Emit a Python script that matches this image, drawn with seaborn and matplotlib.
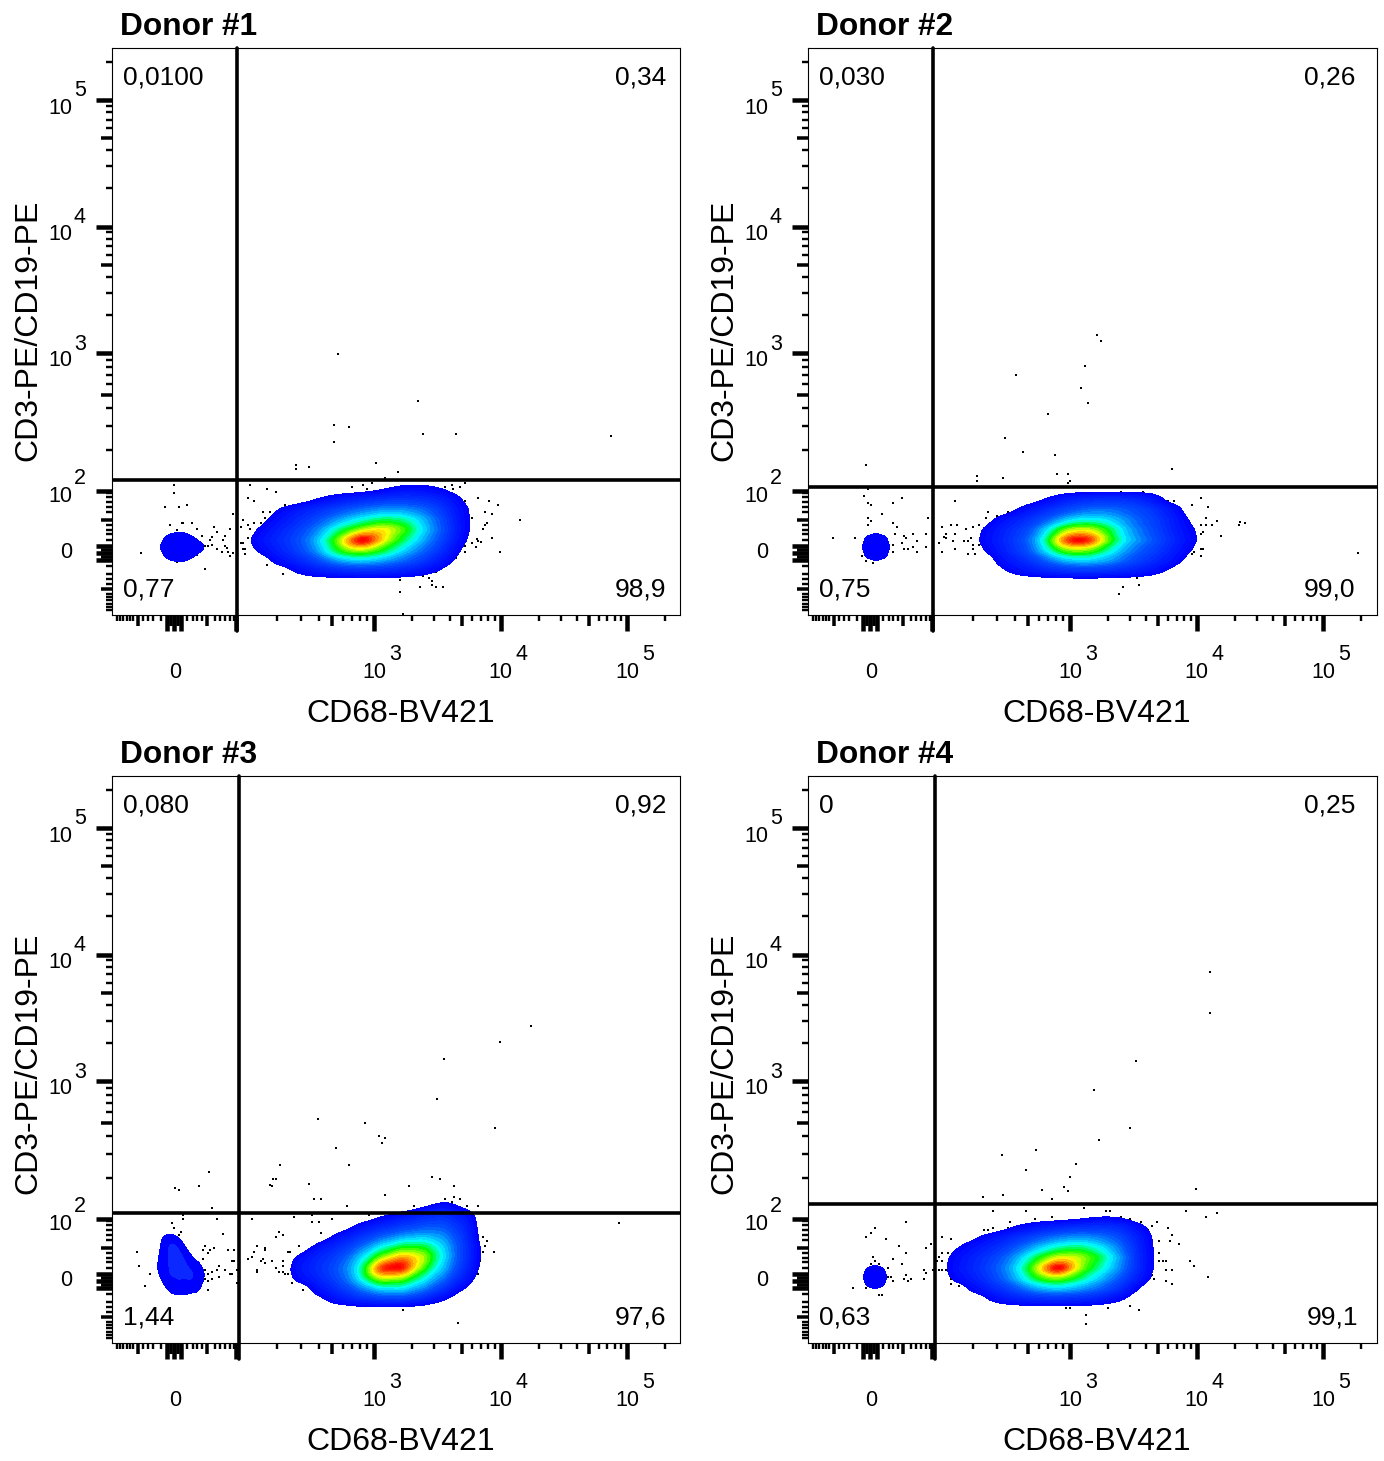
import numpy as np
import pandas as pd
import seaborn as sns
import matplotlib.pyplot as plt
from matplotlib.colors import LinearSegmentedColormap, ListedColormap

# all values are display channels of the biexponential axes (0-568)
TITLES = ["Donor #1", "Donor #2", "Donor #3", "Donor #4"]
Q_TL = ["0,0100", "0,030", "0,080", "0"]
Q_TR = ["0,34", "0,26", "0,92", "0,25"]
Q_BL = ["0,77", "0,75", "1,44", "0,63"]
Q_BR = ["98,9", "99,0", "97,6", "99,1"]
GATE_X = [124.5, 124.5, 127, 126.5]
GATE_Y = [135, 128, 130.5, 139.5]

DECADES = [262, 388.5, 515]
DECADE_LABELS = ["3", "4", "5"]
ZERO_CH = 63
HUNDRED_CH = 124

LOW_SHORT = [5, 8, 11, 15, 18, 21, 31, 36, 41, 49, 75, 81, 85, 90, 103, 108, 113, 118, 122,
             165, 189, 207, 231, 240, 248, 255]
LOW_MED = [26, 58.5, 65.5, 95, 220]
LOW_LONG = [55, 62, 69, 124]

# density tables of the main population, weights on a coarse channel grid
MAIN1_X = [150, 170, 190, 210, 230, 250, 270, 290, 310, 330, 350]
MAIN1_Y = [125, 115, 105, 95, 85, 75, 65, 55, 45]
MAIN1_W = [
    [0, 0, 0, 0, 0, 0, .2, .6, .6, .3, 0],
    [0, 0, 0, .4, .8, 1.1, 1.3, 1.4, 1.3, 1, .2],
    [0, .4, .9, 1.3, 1.8, 2.2, 2.6, 2.6, 2.2, 1.4, .4],
    [.1, .7, 1.2, 1.9, 2.8, 3.6, 4.5, 4.2, 3, 1.7, .4],
    [.4, 1, 1.6, 2.6, 4.5, 6, 8, 6, 3.2, 1.9, .4],
    [.7, 1.2, 1.9, 3.2, 6.5, 14, 7, 4.5, 2.8, 1.6, .3],
    [.4, 1, 1.7, 2.8, 5.5, 6.5, 5, 3.2, 2.2, 1.2, .1],
    [0, .6, 1.1, 1.8, 2.8, 3.2, 2.8, 2.2, 1.5, .7, 0],
    [0, 0, .5, .9, 1.1, 1.2, 1.2, 1, .7, .2, 0],
]
MAIN2_X = [180, 200, 220, 240, 260, 280, 300, 320, 340, 360, 380]
MAIN2_Y = [115, 105, 95, 85, 75, 65, 55, 45]
MAIN2_W = [
    [0, 0, 0, .3, .9, 1.1, 1.2, 1.2, .9, 0, 0],
    [0, 0, .6, 1.1, 1.6, 2, 2.1, 1.8, 1.4, .8, 0],
    [.1, .7, 1.1, 1.8, 2.8, 3.4, 3, 2.2, 1.6, 1, .2],
    [.4, 1, 1.5, 3, 6, 6.5, 4.5, 2.4, 1.8, 1, .4],
    [.5, 1.1, 1.8, 3.6, 11, 11, 5, 2.8, 2, 1.2, .5],
    [.3, 1, 1.6, 3.2, 5.6, 5.5, 3.6, 2.2, 1.6, 1, .3],
    [0, .7, 1.1, 1.9, 2.8, 3, 2.6, 1.8, 1.2, .7, .1],
    [0, .3, .7, 1, 1.2, 1.3, 1.2, 1, .7, .2, 0],
]
MAIN3_X = [190, 210, 230, 250, 270, 290, 310, 330, 350, 370]
MAIN3_Y = [135, 125, 115, 105, 95, 85, 75, 65, 55, 45]
MAIN3_W = [
    [0, 0, 0, 0, 0, 0, .2, .7, .2, 0],
    [0, 0, 0, 0, .3, .7, 1, 1.2, .8, 0],
    [0, 0, 0, .6, 1, 1.3, 1.6, 1.7, 1, 0],
    [0, 0, .7, 1.2, 1.8, 2.4, 2.7, 2.3, 1.2, 0],
    [0, .7, 1.1, 1.9, 3.2, 4.2, 4.2, 2.8, 1.3, .1],
    [.5, 1, 1.5, 2.8, 5, 7.5, 6, 2.9, 1.3, .1],
    [.7, 1.1, 1.8, 3.2, 10, 10, 4.5, 2.6, 1.1, .1],
    [.5, 1, 1.6, 3, 5.5, 5, 3.2, 2, .8, 0],
    [0, .6, 1.2, 1.9, 2.8, 3, 2.2, 1.2, .3, 0],
    [0, .2, .7, 1.1, 1.3, 1.4, 1, .4, 0, 0],
]
MAIN4_X = [150, 170, 190, 210, 230, 250, 270, 290, 310, 330]
MAIN4_Y = [125, 115, 105, 95, 85, 75, 65, 55, 45]
MAIN4_W = [
    [0, 0, 0, 0, 0, 0, .1, .3, .3, 0],
    [0, 0, 0, .4, .8, 1.1, 1.3, 1.4, 1.3, .5],
    [0, .3, .8, 1.3, 1.9, 2.4, 2.7, 2.4, 1.9, .9],
    [.3, .8, 1.2, 2, 3, 4, 4.6, 3.6, 2.4, 1],
    [.6, 1.1, 1.7, 2.8, 4.8, 7, 7, 5, 2.8, 1.1],
    [.7, 1.2, 2, 3.2, 6.5, 14, 6, 4.2, 2.6, 1.1],
    [.5, 1, 1.8, 2.9, 5, 6, 4.6, 3.1, 2, .8],
    [0, .6, 1.2, 1.9, 2.8, 3.3, 2.8, 2.2, 1.4, .2],
    [0, 0, .6, 1, 1.2, 1.2, 1.2, 1, .5, 0],
]

# small population left of the gate
SMALL1 = [(56, 68), (60, 61), (60, 75), (68, 59), (68, 77), (76, 62), (76, 74), (84, 68), (66, 68), (74, 68)]
SMALL2 = [(60, 68), (68, 60), (68, 76), (76, 68), (68, 68), (62, 62), (74, 62), (62, 74), (74, 74)]
SMALL3 = [(58, 96), (64, 96), (56, 84), (64, 84), (72, 84), (54, 72), (64, 72), (74, 72), (84, 72),
          (60, 60), (70, 60), (80, 62)]
SMALL4 = [(60, 66), (67, 59), (67, 73), (74, 66), (67, 66), (62, 61), (72, 61), (62, 71), (72, 71)]

# single events
DOTS1 = [(226, 261), (306, 214), (222, 190), (237, 188), (222, 173), (311, 181), (344, 181), (499, 179),
         (184, 150), (184, 146), (197, 148), (264, 152), (286, 143), (273, 137),
         (62, 130), (62, 122), (53, 108), (67, 108), (75, 110), (58, 90), (70, 92), (71, 92), (80, 92), (65, 85),
         (85, 86), (102, 88), (105, 83), (118, 86), (100, 78), (113, 79), (90, 79), (98, 75), (111, 75), (93, 69),
         (96, 69), (100, 70), (105, 66), (113, 69), (115, 67), (116, 63), (118, 59), (110, 63), (121, 101),
         (121, 62), (29, 62), (51, 70), (51, 66), (65, 53), (93, 46), (85, 60),
         (138, 130), (155, 126), (164, 123), (136, 117), (142, 114), (173, 110), (191, 112), (209, 117),
         (240, 128), (251, 130), (260, 132), (255, 126), (333, 128), (340, 130), (335, 123), (341, 126),
         (348, 128), (353, 132), (151, 103), (158, 103), (131, 95), (129, 88), (136, 90), (142, 92), (149, 92),
         (153, 97), (138, 86), (129, 72), (131, 72), (136, 77), (131, 66), (133, 66), (133, 61), (155, 50),
         (171, 41), (353, 114), (366, 117), (377, 114), (386, 110), (355, 106), (373, 103), (380, 101), (360, 97),
         (375, 92), (373, 90), (371, 86), (408, 95), (380, 77), (365, 76), (366, 74), (369, 73), (360, 72),
         (353, 69), (364, 68), (353, 63), (388, 63), (344, 57), (331, 48), (324, 43), (311, 39), (317, 37),
         (320, 34), (320, 30), (324, 28), (331, 28), (308, 28), (288, 35), (288, 23), (291, 1)]
DOTS2 = [(289, 280), (293, 274), (277, 249), (208, 240), (273, 227), (280, 212), (240, 201), (197, 177),
         (215, 163), (58, 150), (247, 160), (364, 146), (169, 139), (169, 134), (195, 137), (249, 141), (260, 141),
         (262, 134), (260, 132),
         (60, 126), (56, 119), (60, 112), (63, 110), (85, 112), (94, 117), (74, 101), (60, 97), (63, 94), (60, 90),
         (85, 92), (89, 88), (120, 97), (25, 77), (47, 77), (87, 81), (96, 79), (98, 77), (105, 81), (118, 81),
         (109, 74), (94, 72), (85, 70), (105, 68), (100, 66), (96, 66), (85, 63), (109, 63), (118, 68), (54, 59),
         (58, 54), (65, 52),
         (147, 114), (134, 88), (143, 90), (149, 90), (138, 81), (136, 78), (138, 77), (147, 81), (158, 86),
         (165, 88), (171, 90), (145, 74), (131, 72), (156, 74), (160, 74), (163, 77), (165, 70), (147, 66),
         (134, 63), (165, 66), (160, 61), (167, 61), (171, 70), (178, 97), (180, 103), (189, 99), (191, 97),
         (200, 103), (240, 114), (244, 117), (313, 123), (335, 123), (360, 114), (366, 114), (384, 110), (393, 117),
         (400, 108), (398, 97), (409, 94), (404, 90), (398, 90), (393, 90), (395, 83), (393, 81), (413, 79),
         (431, 90), (393, 66), (395, 66), (386, 63), (384, 61), (393, 59), (353, 43), (329, 37), (315, 28),
         (331, 30), (311, 21), (550, 62), (432, 93), (437, 92)]
DOTS3 = [(419, 317), (388, 301), (332, 284), (325, 244), (383, 215), (206, 224), (253, 220), (267, 207), (273, 205),
         (270, 200), (224, 195), (237, 178), (168, 178), (161, 164), (158, 158), (97, 171), (63, 155), (67, 153),
         (87, 157), (320, 166), (328, 164), (297, 157), (342, 157), (333, 144), (342, 146), (340, 141), (348, 144),
         (355, 137), (366, 137), (302, 137), (273, 148), (235, 137), (202, 144), (209, 144), (197, 159), (160, 157),
         (164, 164), (100, 135),
         (71, 128), (71, 124), (105, 124), (60, 120), (62, 115), (69, 111), (67, 108), (60, 108), (111, 109),
         (25, 91), (27, 77), (38, 69), (33, 57), (93, 97), (91, 93), (98, 93), (96, 90), (102, 95), (91, 84),
         (116, 93), (122, 93), (120, 82), (122, 82), (107, 77), (105, 73), (113, 73), (125, 73), (100, 71), (93, 73),
         (118, 69), (120, 69), (96, 69), (107, 66), (100, 64), (96, 62), (93, 64), (125, 60), (96, 53),
         (140, 124), (182, 126), (200, 128), (200, 121), (207, 121), (220, 124), (257, 128), (209, 110), (167, 111),
         (171, 108), (164, 106), (187, 97), (145, 97), (153, 95), (153, 93), (142, 91), (140, 86), (136, 84),
         (151, 84), (149, 82), (153, 80), (160, 82), (171, 82), (171, 77), (176, 91), (178, 91), (164, 75), (145, 73),
         (145, 71), (167, 71), (171, 71), (173, 69), (176, 69), (180, 60), (191, 53), (362, 121), (371, 106),
         (375, 102), (373, 97), (382, 91), (371, 91), (368, 82), (366, 69), (353, 60), (342, 53), (322, 40),
         (291, 33), (346, 20), (507, 120)]
DOTS4 = [(402, 371), (402, 330), (328, 282), (286, 253), (322, 215), (291, 203), (228, 193), (194, 188), (268, 179),
         (218, 173), (262, 166), (256, 156), (388, 154), (234, 153), (175, 146), (195, 148), (260, 152), (244, 144),
         (276, 135), (298, 132), (302, 132), (218, 132), (185, 132), (378, 132), (398, 126), (409, 130), (244, 126),
         (227, 124), (202, 121), (313, 126), (322, 124), (333, 121), (349, 121), (344, 117), (340, 113), (360, 115),
         (364, 108), (351, 102), (362, 102), (371, 99), (351, 90), (351, 82), (355, 82), (358, 82), (382, 82),
         (386, 77), (358, 73), (364, 73), (400, 66), (346, 64), (340, 64), (344, 68), (358, 62), (364, 59), (300, 35),
         (322, 37), (331, 33), (278, 28), (278, 19), (258, 35), (262, 35),
         (98, 121), (67, 115), (63, 110), (58, 106), (78, 104), (91, 97), (98, 90), (85, 84), (94, 79), (65, 86),
         (67, 82), (63, 79), (71, 79), (80, 75), (98, 68), (80, 66), (83, 66), (85, 62), (96, 64), (100, 62),
         (103, 64), (116, 64), (116, 73), (118, 70), (45, 55), (58, 55), (71, 48), (74, 48),
         (123, 99), (118, 95), (134, 106), (143, 104), (134, 90), (140, 90), (131, 86), (129, 82), (134, 82),
         (125, 73), (131, 73), (134, 73), (138, 73), (143, 68), (143, 64), (143, 59), (151, 57), (156, 97), (171, 102),
         (176, 113), (180, 113), (185, 115), (200, 115)]

MAINS = [(MAIN1_X, MAIN1_Y, MAIN1_W), (MAIN2_X, MAIN2_Y, MAIN2_W), (MAIN3_X, MAIN3_Y, MAIN3_W), (MAIN4_X, MAIN4_Y, MAIN4_W)]
SMALLS = [SMALL1, SMALL2, SMALL3, SMALL4]
DOTS = [DOTS1, DOTS2, DOTS3, DOTS4]
# left, top, width, height of each panel in pixels
PANELS = [(112, 48, 568, 567), (808, 48, 569, 567), (112, 776, 568, 567), (808, 776, 569, 567)]
RIGHT_TEXT = [554, 547, 554, 547]
YLABEL_POS = [285, 285, 280, 280]

W, H = 1384, 1461

sns.set_style("white")
plt.rcParams["font.family"] = ["Liberation Sans", "DejaVu Sans"]
plt.rcParams["text.color"] = "black"
plt.rcParams["axes.labelcolor"] = "black"
plt.rcParams["axes.titlecolor"] = "black"

flow_cmap = LinearSegmentedColormap.from_list(
    "flow", [(0, "#0000ff"), (0.16, "#0050ff"), (0.33, "#00ffff"), (0.47, "#00ff00"), (0.68, "#ffff00"), (0.85, "#ff8000"), (1, "#ff0000")]
)
density_steps = np.linspace(0.09, 1, 30)
main_levels = list(3 * density_steps ** 2 - 2 * density_steps ** 3)


def main_frame(xs, ys, weights):
    rows = []
    for y, row in zip(ys, weights):
        for x, w in zip(xs, row):
            if w > 0:
                rows.append((x, y, w))
    return pd.DataFrame(rows, columns=["x", "y", "w"])


def set_ticks(axis, decades):
    short = list(LOW_SHORT)
    med = list(LOW_MED)
    long_ = list(LOW_LONG) + list(decades)
    for d in decades:
        for k in range(2, 10):
            pos = d + 126.5 * np.log10(k)
            if pos > 566:
                continue
            if k == 5:
                med.append(pos)
            else:
                short.append(pos)
    styles = [(p, 6, 2.4) for p in short] + [(p, 11, 3.5) for p in med] + [(p, 16, 4.5) for p in long_]
    styles.sort()
    axis.set_ticks([s[0] for s in styles])
    for tick, s in zip(axis.get_major_ticks(), styles):
        tick.tick1line.set_markersize(s[1] * 0.72)
        tick.tick1line.set_markeredgewidth(s[2] * 0.72)


fig = plt.figure(figsize=(W / 100, H / 100), dpi=100)
for i in range(4):
    left, top, width, height = PANELS[i]
    ax = fig.add_axes([left / W, 1 - (top + height) / H, width / W, height / H])

    dots = pd.DataFrame(DOTS[i], columns=["x", "y"])
    sns.scatterplot(data=dots, x="x", y="y", marker="s", s=4.5, color="black", linewidth=0, ax=ax, zorder=1)

    main = main_frame(*MAINS[i])
    sns.kdeplot(data=main, x="x", y="y", weights="w", fill=True, levels=main_levels, cmap=flow_cmap,
                bw_method=0.3, gridsize=220, ax=ax, zorder=2)

    small = pd.DataFrame(SMALLS[i], columns=["x", "y"])
    sns.kdeplot(data=small, x="x", y="y", fill=True, levels=[0.06, 0.6, 1], cmap=ListedColormap(["#0000ff", "#0a28ff" if i == 2 else "#0000ff"]),
                bw_method=0.55, gridsize=120, ax=ax, zorder=2)

    ax.axvline(GATE_X[i], ymin=-16 / height, ymax=1, color="black", lw=2.6, clip_on=False, zorder=4)
    ax.axhline(GATE_Y[i], color="black", lw=2.6, zorder=4)

    ax.set_xlim(0, width)
    ax.set_ylim(0, height)
    for spine in ax.spines.values():
        spine.set_visible(True)
        spine.set_linewidth(0.8)
        spine.set_color("black")
    ax.tick_params(axis="both", which="major", direction="out", color="black", bottom=True, left=True, labelbottom=False, labelleft=False)
    set_ticks(ax.xaxis, DECADES)
    set_ticks(ax.yaxis, DECADES)

    # tick labels with the raised exponents
    for pos, exp in zip(DECADES, DECADE_LABELS):
        ax.text(pos, -58, "10", fontsize=15.5, ha="center", va="center")
        ax.text(pos + 21, -40, exp, fontsize=15.5, ha="center", va="center")
        ax.text(-52, pos - 8, "10", fontsize=15.5, ha="center", va="center")
        ax.text(-32, pos + 9, exp, fontsize=15.5, ha="center", va="center")
    ax.text(-52, HUNDRED_CH + 2 - 8, "10", fontsize=15.5, ha="center", va="center")
    ax.text(-32, HUNDRED_CH + 2 + 11, "2", fontsize=15.5, ha="center", va="center")
    ax.text(ZERO_CH, -58, "0", fontsize=15.5, ha="center", va="center")
    ax.text(-46, ZERO_CH, "0", fontsize=15.5, ha="center", va="center")

    ax.text(11, 537, Q_TL[i], fontsize=19, ha="left", va="center")
    ax.text(RIGHT_TEXT[i], 537, Q_TR[i], fontsize=19, ha="right", va="center")
    ax.text(11, 25, Q_BL[i], fontsize=19, ha="left", va="center")
    ax.text(RIGHT_TEXT[i] + (3 if i == 3 else 0), 25, Q_BR[i], fontsize=19, ha="right", va="center")

    ax.set_xlabel("CD68-BV421", fontsize=23, va="center")
    ax.xaxis.set_label_coords(289 / width, -99 / height)
    ax.set_ylabel("CD3-PE/CD19-PE", fontsize=23, va="center")
    ax.yaxis.set_label_coords(-84 / width, YLABEL_POS[i] / height)
    ax.set_title(TITLES[i], loc="left", x=8.5 / width, y=1, pad=9.5, fontsize=22.8, fontweight="bold")

plt.savefig("out.png", dpi=100)
